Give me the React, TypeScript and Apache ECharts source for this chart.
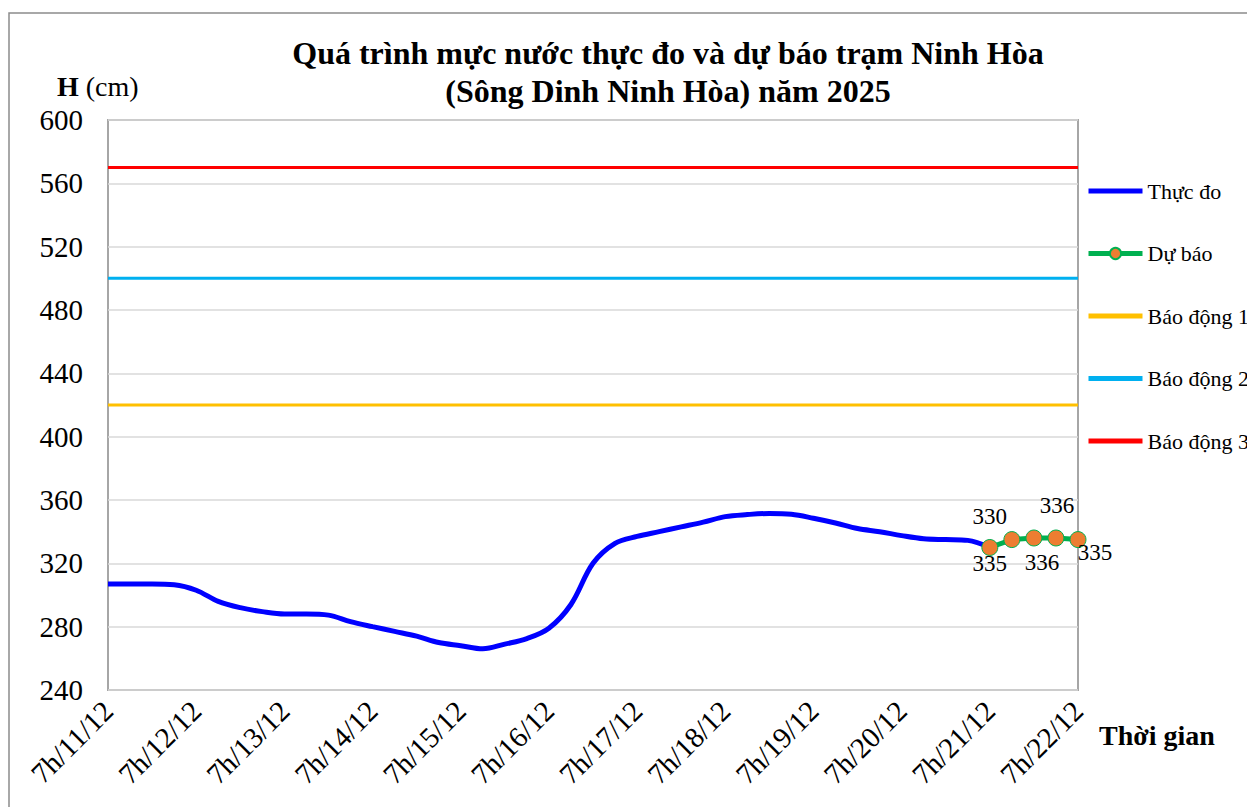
import React, { useEffect, useRef } from 'react';
import * as echarts from 'echarts';

const FONT = '"Liberation Serif", "Times New Roman", Times, serif';

// day tick labels (every 24h, starting 7h/11/12)
const dayLabels = ['7h/11/12', '7h/12/12', '7h/13/12', '7h/14/12', '7h/15/12', '7h/16/12', '7h/17/12', '7h/18/12', '7h/19/12', '7h/20/12', '7h/21/12', '7h/22/12'];
// 6-hourly time slots within a day
const slotHours = ['7h', '13h', '19h', '1h'];

// Observed water level (cm), 6-hourly from 7h/11/12 to 7h/21/12
const observed = [
  307, 307, 307, 306.5, 303, 296, 292, 289.5, 288, 288,
  287.3, 283.2, 280, 277, 274, 270, 268, 266, 269, 272.5,
  279, 294, 320, 332.6, 337, 340, 343, 346, 349.5, 350.8,
  351.5, 351, 348.5, 345.5, 342, 340, 337.5, 335.5, 335, 334.5,
  330,
];
// Forecast (cm), 6-hourly from 7h/21/12 to 7h/22/12
const forecast = [330, 335, 336, 336, 335];
const forecastLabelOffsets = [[0, -31], [-22, 24], [8, 24], [1, -33], [17, 13]];

const alarm1 = 420;
const alarm2 = 500;
const alarm3 = 570;

const yTicks = { min: 240, max: 600, interval: 40 };

export default function App() {
  const ref = useRef<HTMLDivElement>(null);
  useEffect(() => {
    if (!ref.current) return;
    const chart = echarts.init(ref.current, null, { renderer: 'svg' });

    const categories: string[] = [];
    dayLabels.forEach((d, i) => {
      const dayPart = d.slice(3);
      slotHours.forEach((h, j) => {
        if (i === dayLabels.length - 1 && j > 0) return;
        const day = j === 3 ? (parseInt(dayPart) + 1) + dayPart.slice(dayPart.indexOf('/')) : dayPart;
        categories.push(h + '/' + day);
      });
    });
    const lastIdx = categories.length - 1;
    const fcStart = lastIdx - forecast.length + 1;

    const fcData = forecast.map((v, i) => ({
      value: [fcStart + i, v],
      label: {
        show: true,
        position: 'inside',
        offset: forecastLabelOffsets[i],
        formatter: String(v),
        color: '#000',
        fontFamily: FONT,
        fontSize: 23,
      },
    }));

    const hideSym = { itemStyle: { opacity: 0 } };

    chart.setOption({
      animation: false,
      backgroundColor: '#fff',
      textStyle: { fontFamily: FONT },
      title: {
        text: 'Quá trình mực nước thực đo và dự báo trạm Ninh Hòa\n(Sông Dinh Ninh Hòa) năm 2025',
        left: 663,
        textAlign: 'center',
        top: 29,
        textStyle: { fontFamily: FONT, fontSize: 32, fontWeight: 'bold', color: '#000', lineHeight: 38 },
      },
      legend: {
        orient: 'vertical',
        left: 1081,
        top: 175,
        itemWidth: 54,
        itemHeight: 14,
        itemGap: 40.5,
        lineStyle: { width: 5 },
        textStyle: { fontFamily: FONT, fontSize: 22, color: '#000' },
        data: [
          { name: 'Thực đo', ...hideSym },
          { name: 'Dự báo' },
          { name: 'Báo động 1', ...hideSym },
          { name: 'Báo động 2', ...hideSym },
          { name: 'Báo động 3', ...hideSym },
        ],
      },
      grid: {
        left: 108,
        top: 120,
        right: 169,
        bottom: 117,
        show: true,
        borderColor: '#a6a6a6',
        borderWidth: 2,
      },
      xAxis: {
        type: 'category',
        data: categories,
        boundaryGap: false,
        axisLine: { show: false },
        axisTick: { show: false },
        splitLine: { show: false },
        axisLabel: {
          interval: 3,
          rotate: 45,
          margin: 16,
          fontFamily: FONT,
          fontSize: 29,
          color: '#000',
        },
      },
      yAxis: {
        type: 'value',
        min: yTicks.min,
        max: yTicks.max,
        interval: yTicks.interval,
        axisLine: { show: false },
        axisTick: { show: false },
        splitLine: { lineStyle: { color: '#d9d9d9', width: 1.5 } },
        axisLabel: {
          margin: 25,
          fontFamily: FONT,
          fontSize: 29,
          color: '#000',
        },
      },
      graphic: [
        {
          type: 'rect',
          shape: { x: 9, y: 13, width: 1300, height: 900 },
          style: { fill: 'none', stroke: '#8c8c8c', lineWidth: 1.5 },
          silent: true,
        },
        {
          type: 'text',
          left: 57,
          top: 72,
          style: {
            text: '{b|H} (cm)',
            rich: { b: { fontWeight: 'bold', fontFamily: FONT, fontSize: 28, fill: '#000' } },
            fontFamily: FONT,
            fontSize: 28,
            fill: '#000',
          },
        },
        {
          type: 'text',
          left: 1099,
          top: 721,
          style: { text: 'Thời gian', fontFamily: FONT, fontSize: 28, fontWeight: 'bold', fill: '#000' },
        },
      ],
      series: [
        {
          name: 'Báo động 1',
          type: 'line',
          symbol: 'none',
          data: [[0, alarm1], [lastIdx, alarm1]],
          lineStyle: { color: '#FFC000', width: 3 },
          itemStyle: { color: '#FFC000' },
          z: 2,
        },
        {
          name: 'Báo động 2',
          type: 'line',
          symbol: 'none',
          data: [[0, alarm2], [lastIdx, alarm2]],
          lineStyle: { color: '#00B0F0', width: 3 },
          itemStyle: { color: '#00B0F0' },
          z: 2,
        },
        {
          name: 'Báo động 3',
          type: 'line',
          symbol: 'none',
          data: [[0, alarm3], [lastIdx, alarm3]],
          lineStyle: { color: '#FF0000', width: 3 },
          itemStyle: { color: '#FF0000' },
          z: 2,
        },
        {
          name: 'Thực đo',
          type: 'line',
          symbol: 'none',
          smooth: 0.35,
          data: observed,
          lineStyle: { color: '#0000FF', width: 5 },
          itemStyle: { color: '#0000FF' },
          z: 3,
        },
        {
          name: 'Dự báo',
          type: 'line',
          symbol: 'circle',
          symbolSize: 16,
          showAllSymbol: true,
          data: fcData,
          lineStyle: { color: '#00B050', width: 5 },
          itemStyle: { color: '#ED7D31', borderColor: '#00B050', borderWidth: 1 },
          z: 4,
        },
      ],
    });
    return () => chart.dispose();
  }, []);

  return <div ref={ref} style={{ position: 'absolute', left: 0, top: 0, width: 1247, height: 807 }} />;
}
